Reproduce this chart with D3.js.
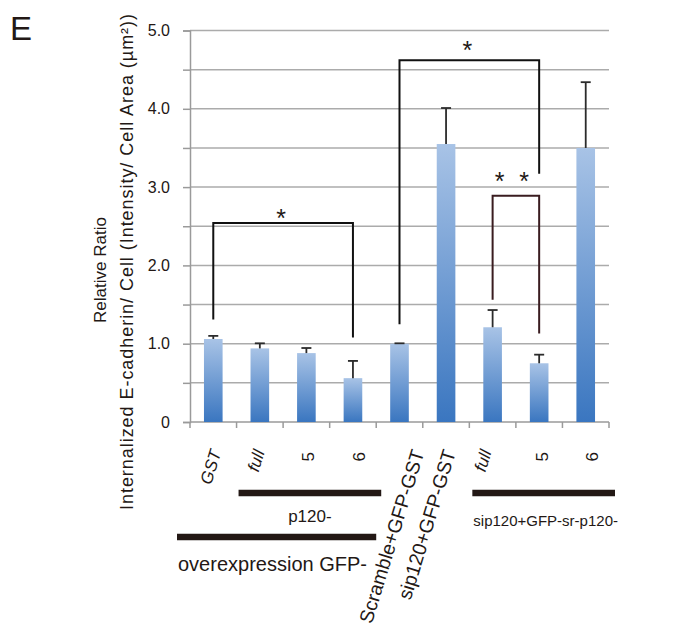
<!DOCTYPE html>
<html>
<head>
<meta charset="utf-8">
<script src="https://cdn.jsdelivr.net/npm/d3@7"></script>
<style>
  html, body { margin: 0; padding: 0; background: #fff; }
  text { font-family: "Liberation Sans", Arial, Helvetica, sans-serif; fill: #231815; }
</style>
</head>
<body>
<div id="container"></div>
<script>
// ------ data ------
const categories = ["GST", "full", "5", "6", "Scramble+GFP-GST", "sip120+GFP-GST", "full", "5", "6"];
const means = [1.06, 0.94, 0.88, 0.56, 1.00, 3.55, 1.21, 0.75, 3.50];
const errors = [0.04, 0.065, 0.065, 0.22, 0.005, 0.46, 0.22, 0.11, 0.84];
const yTicks = [0, 1, 2, 3, 4, 5];
const yTickLabels = ["0", "1.0", "2.0", "3.0", "4.0", "5.0"];
const italicLabels = [true, true, false, false, false, false, true, false, false];

// significance brackets: bar index from/to, height of top, heights of the two legs
const brackets = [
  { from: 0, to: 3, top: 2.54, leftEnd: 1.31, rightEnd: 1.08, mark: "*", color: "#111" },
  { from: 4, to: 7, top: 4.62, leftEnd: 1.25, rightEnd: 3.17, mark: "*", color: "#111" },
  { from: 6, to: 7, top: 2.89, leftEnd: 1.56, rightEnd: 1.13, mark: "* *", color: "#3a1c20" }
];

// group annotations under the axis
const groups = [
  { label: "p120-", from: 1, to: 3, row: 0 },
  { label: "overexpression GFP-", from: 0, to: 3, row: 1 },
  { label: "sip120+GFP-sr-p120-", from: 6, to: 8, row: 0 }
];

// ------ layout ------
const width = 679, height = 632;
const margin = { left: 190, right: 70, top: 30.5, bottom: 210 };

const svg = d3.select('#container').append('svg')
  .attr('width', width)
  .attr('height', height);

const x = d3.scaleBand()
  .domain(d3.range(categories.length))
  .range([margin.left, width - margin.right])
  .paddingInner(0.6)
  .paddingOuter(0.3);

const y = d3.scaleLinear()
  .domain([0, 5])
  .range([height - margin.bottom, margin.top]);

const step = x.step();
const x0 = margin.left;
const x1 = width - margin.right;
const cx = i => x(i) + x.bandwidth() / 2;
const edge = k => x0 + k * step;

// gradient for bars
const defs = svg.append('defs');
const grad = defs.append('linearGradient')
  .attr('id', 'barGrad')
  .attr('x1', 0).attr('y1', 0).attr('x2', 0).attr('y2', 1);
grad.append('stop').attr('offset', '0%').attr('stop-color', '#a8c3e6');
grad.append('stop').attr('offset', '100%').attr('stop-color', '#3a76c0');

// panel letter
svg.append('text')
  .attr('x', 10).attr('y', 40)
  .style('font-size', '33px')
  .text('E');

// gridlines every 0.5
const grid = d3.range(0.5, 5.01, 0.5);
svg.append('g').selectAll('line').data(grid).enter().append('line')
  .attr('x1', x0).attr('x2', x1)
  .attr('y1', d => y(d)).attr('y2', d => y(d))
  .attr('stroke', '#ababab')
  .attr('stroke-width', 1.5);

// y axis
const yAxis = d3.axisLeft(y)
  .tickValues(d3.range(0, 5.01, 0.5))
  .tickSize(7)
  .tickFormat(d => {
    const i = yTicks.indexOf(d);
    return i >= 0 ? yTickLabels[i] : "";
  });
const yg = svg.append('g')
  .attr('transform', `translate(${x0},0)`)
  .call(yAxis);
yg.select('.domain').attr('stroke', '#9a9a9a').attr('stroke-width', 1.5);
yg.selectAll('.tick line').attr('stroke', '#9a9a9a').attr('stroke-width', 1.5);
yg.selectAll('.tick text')
  .attr('x', -20)
  .style('font-size', '16px')
  .style('font-family', '"Liberation Sans", Arial, sans-serif')
  .attr('fill', '#231815');

// x axis line and ticks at band edges
svg.append('line')
  .attr('x1', x0).attr('x2', x1)
  .attr('y1', y(0)).attr('y2', y(0))
  .attr('stroke', '#9a9a9a').attr('stroke-width', 1.5);
svg.append('g').selectAll('line').data(d3.range(categories.length + 1)).enter().append('line')
  .attr('x1', d => edge(d)).attr('x2', d => edge(d))
  .attr('y1', y(0)).attr('y2', y(0) + 6)
  .attr('stroke', '#9a9a9a').attr('stroke-width', 1.5);

// bars
svg.append('g').selectAll('rect').data(means).enter().append('rect')
  .attr('x', (d, i) => x(i))
  .attr('width', x.bandwidth())
  .attr('y', d => y(d))
  .attr('height', d => y(0) - y(d))
  .attr('fill', 'url(#barGrad)');

// error bars (upper only)
const eb = svg.append('g').attr('stroke', '#2b2b2b').attr('stroke-width', 1.8);
means.forEach((m, i) => {
  eb.append('line')
    .attr('x1', cx(i)).attr('x2', cx(i))
    .attr('y1', y(m)).attr('y2', y(m + errors[i]));
  eb.append('line')
    .attr('x1', cx(i) - 5).attr('x2', cx(i) + 5)
    .attr('y1', y(m + errors[i])).attr('y2', y(m + errors[i]));
});

// significance brackets
const starGap = [10, 15, 20];
brackets.forEach((b, i) => {
  const xa = cx(b.from), xb = cx(b.to);
  svg.append('path')
    .attr('d', `M${xa},${y(b.leftEnd)}V${y(b.top)}H${xb}V${y(b.rightEnd)}`)
    .attr('fill', 'none')
    .attr('stroke', b.color)
    .attr('stroke-width', 2);
  // asterisk glyph centre sits ~0.57em above its baseline
  svg.append('text')
    .attr('x', (xa + xb) / 2 - 2)
    .attr('y', y(b.top) - starGap[i] + 14)
    .attr('text-anchor', 'middle')
    .style('font-size', '25px')
    .style('letter-spacing', b.mark.length > 1 ? '4px' : '0px')
    .text(b.mark);
});

// category labels, rotated
const labelDx = [8, 5, 2, 6, 25, 10, -1, 3, 6];
const labelY = y(0) + 30;
svg.append('g').selectAll('text').data(categories).enter().append('text')
  .attr('text-anchor', 'end')
  .attr('transform', (d, i) => {
    const rot = (d === "5" || d === "6") ? -90 : -73;
    const dy = (d === "5" || d === "6") ? 6 : 0;
    return `translate(${cx(i) + labelDx[i] + dy},${labelY}) rotate(${rot})`;
  })
  .style('font-size', d => d.length > 5 ? '19.5px' : '17px')
  .style('font-style', (d, i) => italicLabels[i] ? 'italic' : 'normal')
  .text(d => d);

// group bars and labels
const rowY = [493, 537];
const groupPad = [[2, 5], [-13, 0], [3, 6]];
const groupFont = ['17px', '20px', '15px'];
const groupTextDy = [29, 34, 33];
groups.forEach((g, i) => {
  const gx0 = edge(g.from) + groupPad[i][0];
  const gx1 = edge(g.to + 1) + groupPad[i][1];
  svg.append('line')
    .attr('x1', gx0).attr('x2', gx1)
    .attr('y1', rowY[g.row]).attr('y2', rowY[g.row])
    .attr('stroke', '#231815')
    .attr('stroke-width', 6.5);
  const centered = g.label === "p120-";
  svg.append('text')
    .attr('x', centered ? (gx0 + gx1) / 2 : gx0 + 1)
    .attr('y', rowY[g.row] + groupTextDy[i])
    .attr('text-anchor', centered ? 'middle' : 'start')
    .style('font-size', groupFont[i])
    .text(g.label);
});

// y axis title
svg.append('text')
  .attr('transform', 'translate(106,270) rotate(-90)')
  .attr('text-anchor', 'middle')
  .style('font-size', '17px')
  .text('Relative Ratio');
svg.append('text')
  .attr('transform', 'translate(133,262) rotate(-90)')
  .attr('text-anchor', 'middle')
  .attr('textLength', 496)
  .attr('lengthAdjust', 'spacing')
  .style('font-size', '18px')
  .text('Internalized E-cadherin/ Cell (Intensity/ Cell Area (\u00b5m\u00b2))');
</script>
</body>
</html>
